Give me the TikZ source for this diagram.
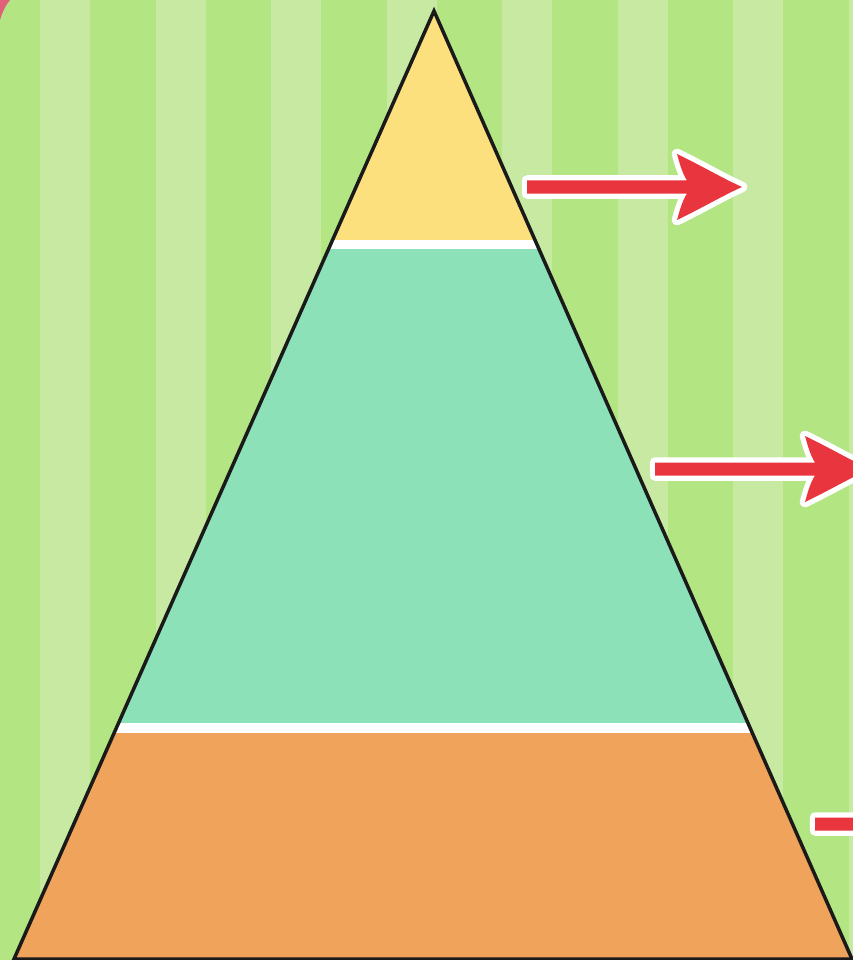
\documentclass[tikz,border=0pt]{standalone}
\usetikzlibrary{calc}
\definecolor{bggreen}{HTML}{B3E582}
\definecolor{bglight}{HTML}{C8E9A2}
\definecolor{pyryellow}{HTML}{FDE07E}
\definecolor{pyrteal}{HTML}{8DE1B9}
\definecolor{pyrorange}{HTML}{F0A35A}
\definecolor{arrowred}{HTML}{E8353E}
\definecolor{cornerpink}{HTML}{E0607A}
\definecolor{outline}{HTML}{1A1A1A}
\newcommand{\pyrarrow}[3]{% start x, y, tip x
  \path[draw=white, line width=10.5pt, line join=round, fill=arrowred]
    (#1,#2-6.5) -- (#3-55,#2-6.5)
    .. controls (#3-60,#2-14) and (#3-63,#2-26) .. (#3-65,#2-33)
    .. controls (#3-40,#2-21) and (#3-20,#2-9) .. (#3,#2)
    .. controls (#3-20,#2+9) and (#3-40,#2+21) .. (#3-65,#2+33)
    .. controls (#3-63,#2+26) and (#3-60,#2+14) .. (#3-55,#2+6.5)
    -- (#1,#2+6.5) -- cycle;
  \fill[arrowred]
    (#1,#2-6.5) -- (#3-55,#2-6.5)
    .. controls (#3-60,#2-14) and (#3-63,#2-26) .. (#3-65,#2-33)
    .. controls (#3-40,#2-21) and (#3-20,#2-9) .. (#3,#2)
    .. controls (#3-20,#2+9) and (#3-40,#2+21) .. (#3-65,#2+33)
    .. controls (#3-63,#2+26) and (#3-60,#2+14) .. (#3-55,#2+6.5)
    -- (#1,#2+6.5) -- cycle;
}
\begin{document}
\begin{tikzpicture}[x=1pt,y=-1pt]
\useasboundingbox (0,0) rectangle (853,960);
% background
\fill[bggreen] (0,0) rectangle (853,960);
\foreach \sx in {40,155.5,271,386.5,502,617.5,733,848.5}{
  \fill[bglight] (\sx,0) rectangle (\sx+50,960);
}
% corner
\fill[cornerpink] (0,0) -- (10,0) .. controls (5,6) and (2,13) .. (0,20) -- cycle;
% arrows
\pyrarrow{527}{187}{742}
\pyrarrow{655}{469}{870}
\pyrarrow{815}{824}{1030}
% pyramid
\coordinate (apex) at (434,11);
\coordinate (bl) at (14,959);
\coordinate (br) at (852,959);
\begin{scope}
  \clip (apex) -- (bl) -- (br) -- cycle;
  \fill[pyryellow] (0,0) rectangle (853,244);
  \fill[pyrteal] (0,244) rectangle (853,728);
  \fill[pyrorange] (0,728) rectangle (853,960);
  \fill[white] (0,239.5) rectangle (853,248.5);
  \fill[white] (0,723) rectangle (853,733);
\end{scope}
\draw[outline, line width=3.5pt, line join=miter] (apex) -- (bl) -- (br) -- cycle;
\end{tikzpicture}
\end{document}
